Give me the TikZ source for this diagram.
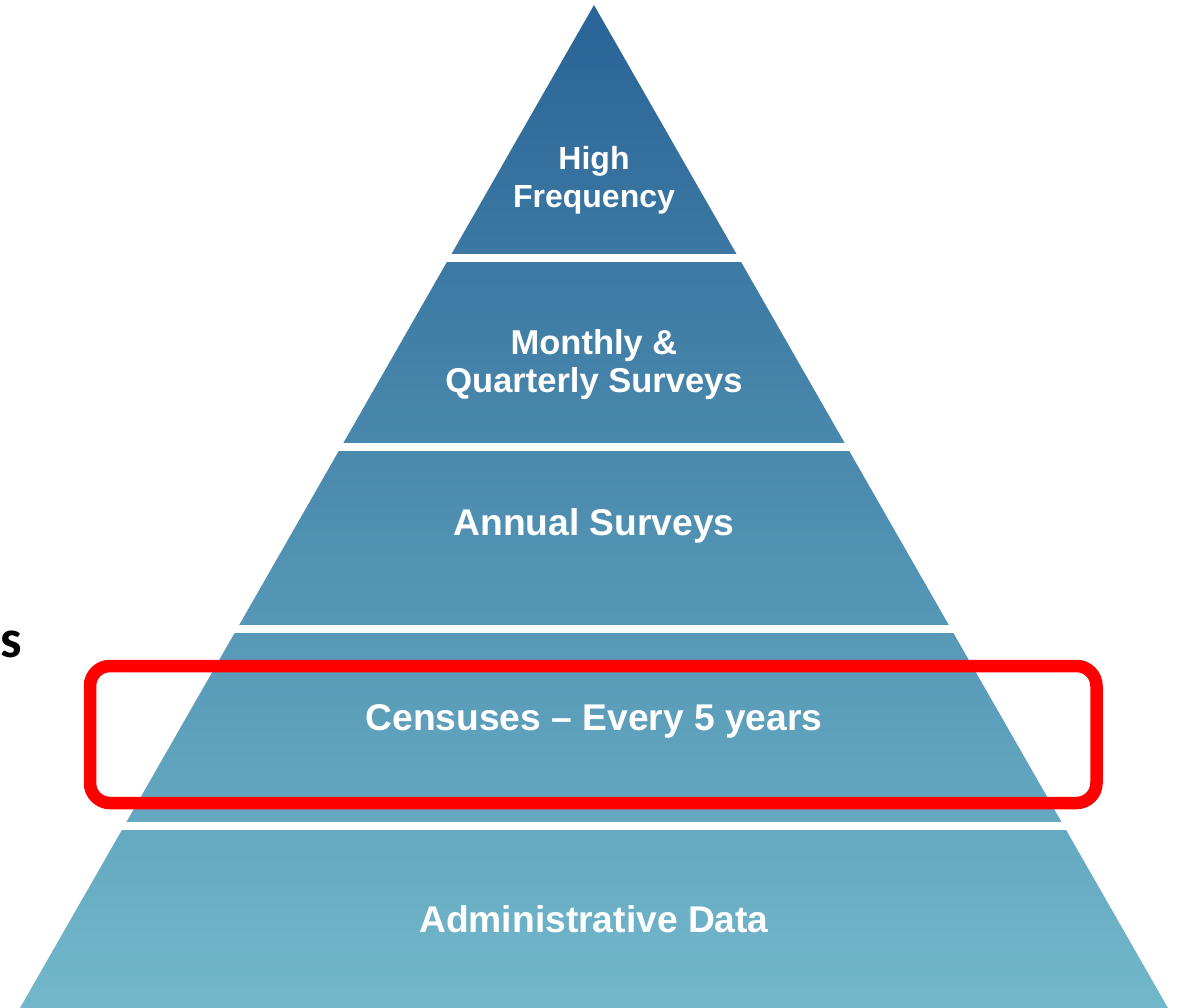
\documentclass[tikz,border=0pt]{standalone}
\usepackage{fontspec}
\setmainfont{Liberation Sans}
\newfontfamily\calib{Carlito}
\definecolor{pyrtop}{RGB}{42,99,150}
\definecolor{pyrbot}{RGB}{114,184,202}
\definecolor{boxred}{RGB}{255,0,0}
\tikzset{
  lbl/.style={text=white, font=\fontsize{37.2}{38}\selectfont\bfseries, anchor=base, inner sep=0pt},
  lblmq/.style={lbl, font=\fontsize{34.5}{38}\selectfont\bfseries},
  lblhf/.style={lbl, font=\fontsize{32}{38}\selectfont\bfseries},
  gap/.style={fill=white, draw=none},
  hilite/.style={draw=boxred, line width=12.5pt, rounded corners=20pt}
}
\begin{document}
\begin{tikzpicture}[x=1pt,y=-1pt]
\useasboundingbox (0,0) rectangle (1178,1008);
\coordinate (apex) at (594,5);
\coordinate (bl) at (20,1008);
\coordinate (br) at (1168,1008);
\shade[top color=pyrtop, bottom color=pyrbot] (apex) -- (bl) -- (br) -- cycle;
% white gaps between layers
\fill[gap] (0,254) rectangle (1178,262);
\fill[gap] (0,443) rectangle (1178,451);
\fill[gap] (0,625) rectangle (1178,633);
\fill[gap] (0,822) rectangle (1178,830);
% labels
\node[lblhf] (hf1) at (594,170) {High};
\node[lblhf] (hf2) at (594,207.5) {Frequency};
\node[lblmq] (mq1) at (594,354) {Monthly \&};
\node[lblmq] (mq2) at (594,392) {Quarterly Surveys};
\node[lbl] (an) at (594,535) {Annual Surveys};
\node[lbl] (ce) at (594,730) {Censuses – Every 5 years};
\node[lbl] (ad) at (594,932) {Administrative Data};
% red highlight box
\draw[hilite] (90,666) rectangle (1096.5,803);
% partial text at left
\node[anchor=base east, inner sep=0pt, font=\calib\fontsize{54}{54}\selectfont\bfseries] (s) at (22,657) {s};
\end{tikzpicture}
\end{document}
